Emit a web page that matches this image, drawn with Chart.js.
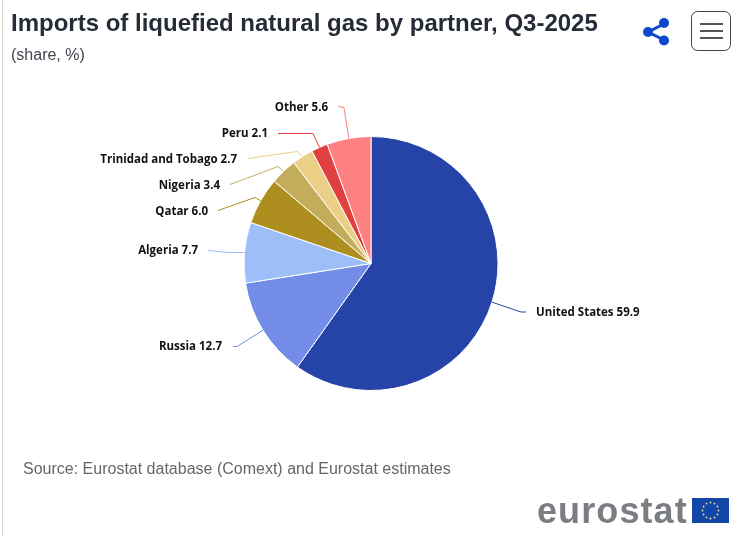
<!DOCTYPE html>
<html><head><meta charset="utf-8">
<script src="https://cdn.jsdelivr.net/npm/chart.js@4"></script>
<style>
html,body{margin:0;padding:0;background:#fff;width:735px;height:536px;overflow:hidden}
#wrap{position:relative;width:735px;height:536px;font-family:"Liberation Sans",Arial,sans-serif}
#c{position:absolute;left:0;top:0}
.t{position:absolute;white-space:nowrap}
#rule{position:absolute;left:2px;top:0;width:1px;height:536px;background:#d4d4d4}
</style></head><body>
<div id="wrap">
<canvas id="c" width="735" height="536" style="width:735px;height:536px"></canvas>
<div id="rule"></div>
<div class="t" style="left:11px;top:9px;font-size:24px;font-weight:bold;color:#262b38">Imports of liquefied natural gas by partner, Q3-2025</div>
<div class="t" style="left:11px;top:46px;font-size:16px;color:#404552">(share, %)</div>
<div class="t" style="left:23px;top:460px;font-size:16px;color:#666">Source: Eurostat database (Comext) and Eurostat estimates</div>
<svg style="position:absolute;left:640px;top:15px" width="32" height="34" viewBox="0 0 32 34">
<path d="M24 9 L8 17 L24 25" fill="none" stroke="#0e47cb" stroke-width="3"/>
<circle cx="24" cy="8" r="5" fill="#0e47cb"/><circle cx="8" cy="17" r="5" fill="#0e47cb"/><circle cx="24" cy="25.500" r="5" fill="#0e47cb"/></svg>
<svg style="position:absolute;left:690px;top:10px" width="42" height="42" viewBox="0 0 42 42">
<rect x="1.500" y="1.500" width="39" height="39" rx="6" fill="#fff" stroke="#444" stroke-width="1"/>
<path d="M10 14H33M10 21H33M10 28H33" stroke="#555" stroke-width="2"/></svg>
<div class="t" id="logo" style="left:537px;top:490px;font-size:36px;font-weight:bold;color:#7a7d82;letter-spacing:1.1px">eurostat</div>
<svg id="flag" style="position:absolute;left:692px;top:498px" width="37" height="25" viewBox="0 0 37 25"><rect width="37" height="25" fill="#1346a8"/></svg>
</div>
<script>
const categories=["United States","Russia","Algeria","Qatar","Nigeria","Trinidad and Tobago","Peru","Other"];
const shares=[59.9,12.7,7.7,6.0,3.4,2.7,2.1,5.6];
const sliceColors=["#2644A7","#738CE8","#9DBEF9","#AD8E1E","#C4AD5A","#EBCF87","#E04040","#FF8080"];
// leader-line routes, relative to the pie centre: [elbow dx,dy, end dx,dy]
const leaderLayout=[
 [150,48.5,155,48.5],
 [-134,83,-138,83],
 [-143,-11,-163,-13],
 [-116,-66,-153,-53],
 [-93,-97,-141,-79],
 [-74,-112,-123,-105],
 [-58,-130,-93,-130],
 [-27,-156,-33,-157]
];
const labelAlign=["left","right","right","right","right","right","right","right"];
const labelOffset=[[165,49.5],[-149,83.5],[-173,-12.5],[-163,-52],[-151,-77.5],[-134,-103.5],[-103,-130],[-43,-155.5]];
const flag=document.getElementById('flag');
for(let i=0;i<12;i++){const a=i*Math.PI/6,s=document.createElementNS('http://www.w3.org/2000/svg','circle');
 s.setAttribute('cx',18.5+8*Math.cos(a));s.setAttribute('cy',12.5+8*Math.sin(a));s.setAttribute('r',0.9);s.setAttribute('fill','#e8e4a0');flag.appendChild(s);}
const leaders={id:'leaders',afterDatasetsDraw(chart){
 const ctx=chart.ctx,arcs=chart.getDatasetMeta(0).data;
 ctx.save();
 arcs.forEach((arc,i)=>{
  const mid=(arc.startAngle+arc.endAngle)/2,cx=arc.x,cy=arc.y,R=arc.outerRadius;
  const L=leaderLayout[i],O=labelOffset[i];
  ctx.beginPath();
  ctx.moveTo(cx+R*Math.cos(mid),cy+R*Math.sin(mid));
  ctx.lineTo(cx+L[0],cy+L[1]);ctx.lineTo(cx+L[2],cy+L[3]);
  ctx.strokeStyle=sliceColors[i];ctx.lineWidth=1;ctx.stroke();
  ctx.font='bold 11.5px "Open Sans"';ctx.fillStyle='#111';ctx.textBaseline='middle';
  ctx.textAlign=labelAlign[i];
  ctx.fillText(categories[i]+' '+shares[i].toFixed(1),cx+O[0],cy+O[1]);
 });
 ctx.restore();
}};
new Chart(document.getElementById('c'),{type:'pie',
 data:{labels:categories,datasets:[{data:shares,backgroundColor:sliceColors,borderColor:'#fff',borderWidth:1}]},
 options:{responsive:false,animation:false,devicePixelRatio:1,
  layout:{padding:{left:243,right:236,top:136,bottom:145}},
  plugins:{legend:{display:false},tooltip:{enabled:false},title:{display:false}}},
 plugins:[leaders]});
</script>
</body></html>
